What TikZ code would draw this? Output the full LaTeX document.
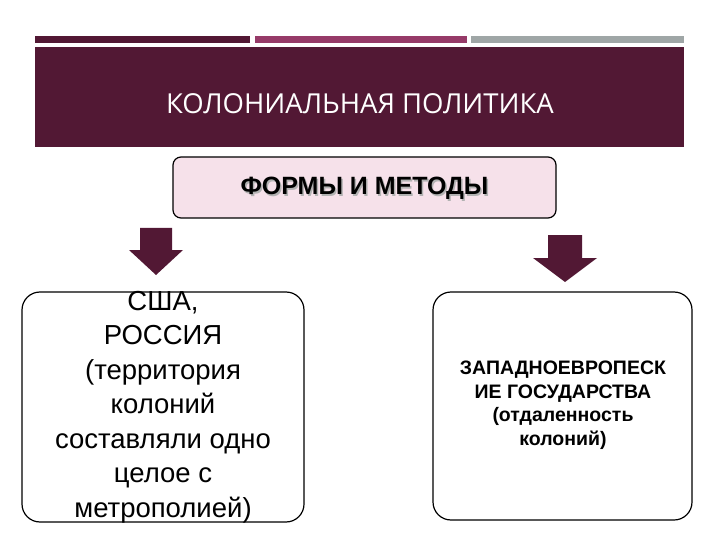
\documentclass[tikz,border=0pt]{standalone}
\usepackage{fontspec}
\setmainfont{Liberation Sans}
\newfontfamily\osans{Open Sans}
\begin{document}
\begin{tikzpicture}[x=1pt,y=-1pt]
\definecolor{maroon}{HTML}{521834}
\definecolor{magbar}{HTML}{963A68}
\definecolor{graybar}{HTML}{9FA6A6}
\definecolor{pinkfill}{HTML}{F6E1EA}
\tikzset{arr/.style={fill=maroon,draw=none},
 sbox/.style={draw=black,line width=1.2pt,rounded corners=18pt,fill=white}}
\useasboundingbox (0,0) rectangle (720,540);
\fill[maroon] (35,36) rectangle (250,43);
\fill[magbar] (255,36) rectangle (467,43);
\fill[graybar] (471,36) rectangle (684,43);
\fill[maroon] (35,47) rectangle (684,147);
\node[text=white,font=\osans\fontsize{27.5}{30}\selectfont] (title) at (360,104) {КОЛОНИАЛЬНАЯ ПОЛИТИКА};
\draw[line width=1.2pt,fill=pinkfill,rounded corners=8pt] (173,157) rectangle (556,218);
\node[text=gray!60,font=\bfseries\fontsize{25}{30}\selectfont] at (366,190) {ФОРМЫ И МЕТОДЫ};
\node[font=\bfseries\fontsize{25}{30}\selectfont] (forms) at (364.5,188) {ФОРМЫ И МЕТОДЫ};
\fill[arr] (140,228) -- (172,228) -- (172,250) -- (183,250) -- (156,275) -- (129,250) -- (140,250) -- cycle;
\fill[arr] (548,235) -- (582,235) -- (582,258) -- (597,258) -- (565,282) -- (533,258) -- (548,258) -- cycle;
\draw[sbox] (22,292) rectangle (304,522);
\draw[sbox] (433,292) rectangle (692,520);
\node[align=center,font=\fontsize{27.5}{34.5}\selectfont] (l) at (163,407) {США,\\РОССИЯ\\(территория\\колоний\\составляли одно\\целое с\\метрополией)};
\node[align=center,font=\bfseries\fontsize{19.5}{23.5}\selectfont] (r) at (563,405) {ЗАПАДНОЕВРОПЕСК\\ИЕ ГОСУДАРСТВА\\(отдаленность\\колоний)};
\end{tikzpicture}
\end{document}
